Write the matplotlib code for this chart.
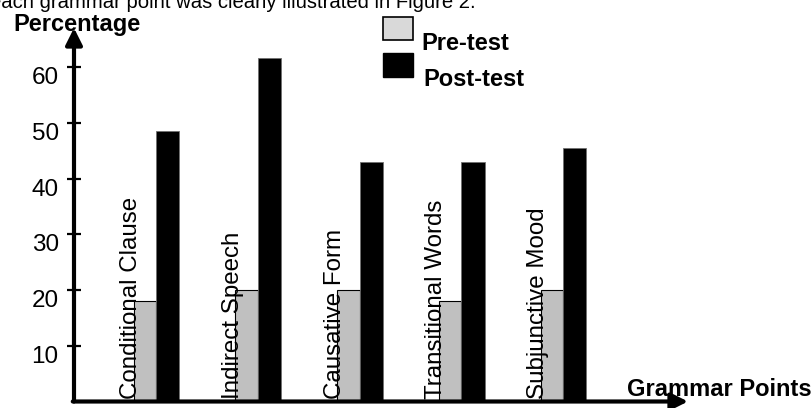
import numpy as np
import matplotlib.pyplot as plt
from matplotlib.patches import Rectangle
from matplotlib.transforms import ScaledTranslation

# data
points = ['Conditional Clause', 'Indirect Speech', 'Causative Form',
          'Transitional Words', 'Subjunctive Mood']
pre_test = [18, 20, 20, 18, 20]
post_test = [48.6, 61.6, 42.9, 42.9, 45.5]
y_ticks = [10, 20, 30, 40, 50, 60]

plt.rcParams['font.family'] = ['Liberation Sans', 'DejaVu Sans']

W, H = 811, 408
fig = plt.figure(figsize=(W / 100, H / 100), dpi=100)


def fx(x):
    return x / W


def fy(y):
    return 1 - y / H


ax = fig.add_axes([74 / W, 6.5 / H, 614 / W, 373.5 / H])
x = np.arange(len(points))
bw = 0.22

ax.bar(x, pre_test, width=-bw, align='edge', color='#c0c0c0',
       edgecolor='black', linewidth=0.8, zorder=2)
ax.bar(x, post_test, width=bw + 0.01, align='edge', color='black',
       edgecolor='#707070', linewidth=0.6, zorder=2)

for i, name in enumerate(points):
    ax.text(i - 0.245, 0.5, name, rotation=90, ha='center', va='bottom',
            fontsize=17.4, zorder=5)

ax.set_xlim(-0.806, 5.228)
ax.set_ylim(0, 67)
for s in ax.spines.values():
    s.set_visible(False)
ax.set_xticks([])
ax.set_yticks(y_ticks)
ax.set_yticklabels([str(t) for t in y_ticks], fontsize=17.5)
shift = ScaledTranslation(-2 / 100, -5 / 100, fig.dpi_scale_trans)
for lab in ax.get_yticklabels():
    lab.set_va('top')
    lab.set_transform(lab.get_transform() + shift)
ax.tick_params(axis='y', direction='inout', length=10, width=1.6, pad=6)

# axes drawn as arrows
arrow = dict(arrowstyle='-|>,head_length=1.0,head_width=0.5', lw=3,
             color='black', shrinkA=0, shrinkB=0, mutation_scale=10)
ax.annotate('', xy=(0, 1), xytext=(0, 0), xycoords='axes fraction',
            arrowprops=arrow, annotation_clip=False, zorder=6)
ax.annotate('', xy=(1, 0), xytext=(-0.002, 0), xycoords='axes fraction',
            arrowprops=arrow, annotation_clip=False, zorder=6)

fig.text(fx(13), fy(24), 'Percentage', fontsize=17, fontweight='bold',
         ha='left', va='center')
fig.text(fx(627), fy(390), 'Grammar Points', fontsize=17,
         fontweight='bold', ha='left', va='center')

# sentence cut off at the top of the picture
fig.text(fx(-10), fy(8), 'each grammar point was clearly illustrated in Figure 2.',
         fontsize=14.6, ha='left', va='baseline')

# legend
fig.patches.append(Rectangle((fx(383), fy(40)), 30 / W, 23 / H,
                             transform=fig.transFigure, facecolor='#d9d9d9',
                             edgecolor='black', linewidth=1.2))
fig.patches.append(Rectangle((fx(383), fy(77)), 30 / W, 24 / H,
                             transform=fig.transFigure, facecolor='black',
                             edgecolor='black', linewidth=1.0))
fig.text(fx(421), fy(43), 'Pre-test', fontsize=17, fontweight='bold',
         ha='left', va='center')
fig.text(fx(423), fy(80), 'Post-test', fontsize=17, fontweight='bold',
         ha='left', va='center')

fig.savefig('out.png', dpi=100)
